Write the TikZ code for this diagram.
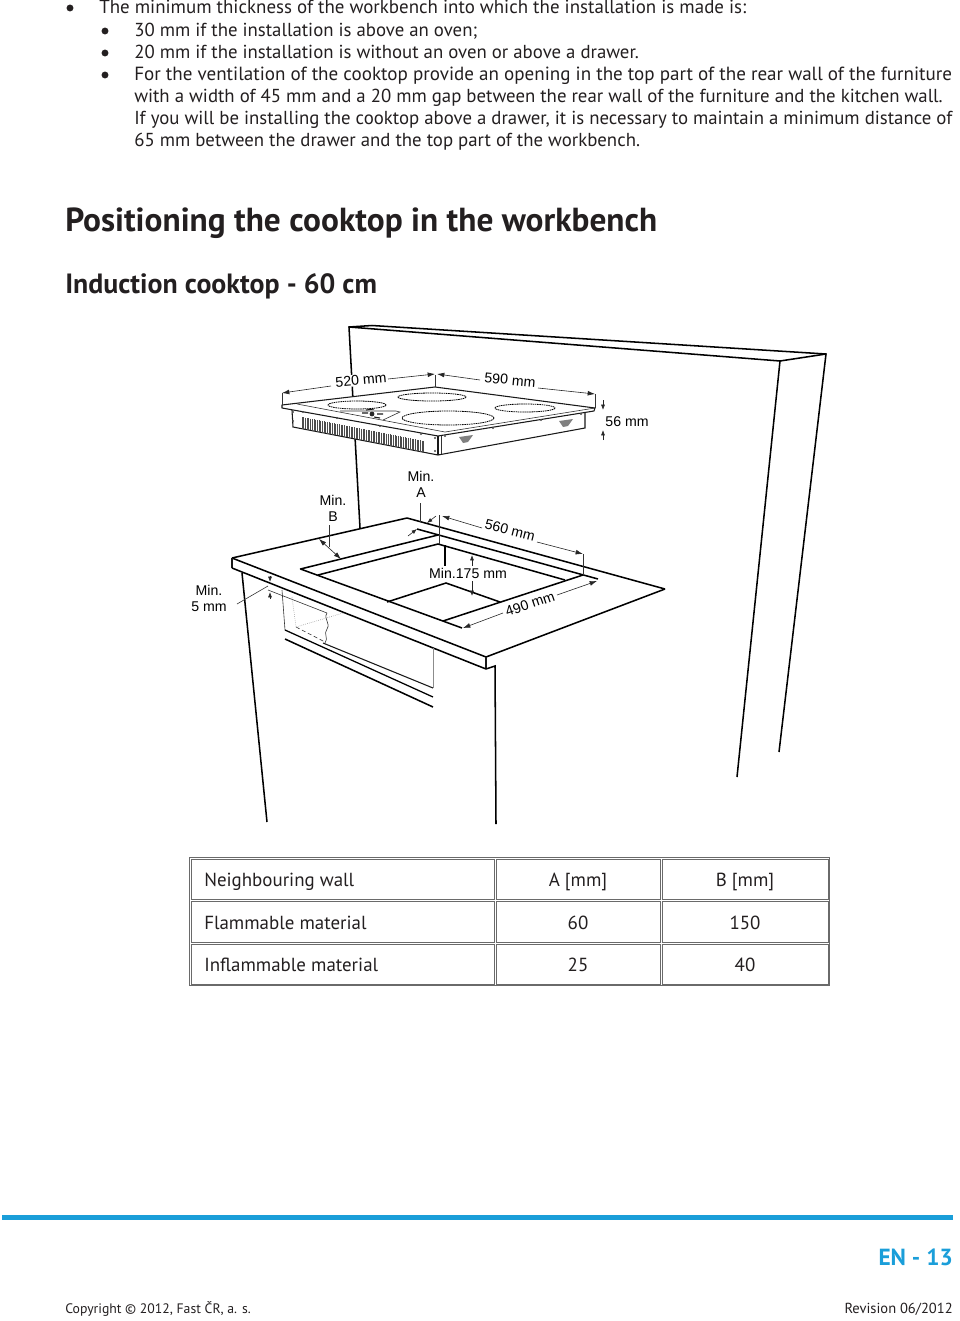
\documentclass[tikz,border=0pt]{standalone}
\usepackage{fontspec}
\usetikzlibrary{arrows.meta}
\setmainfont{PT Sans}
\newfontfamily\dimfont{Liberation Sans}
\definecolor{fastblue}{HTML}{1A9ED9}
\definecolor{textgray}{HTML}{231F20}
\definecolor{tablegray}{HTML}{6A6A6A}
\tikzset{
 body/.style={anchor=base west,inner sep=0pt,text=textgray,font=\fontsize{14.1}{16}\selectfont},
 bul/.style={circle,fill=textgray,inner sep=0pt,minimum size=5.2pt},
 heavy/.style={line width=1.15pt,black},
 mid/.style={line width=.8pt,black!90},
 thin line/.style={line width=.45pt,black!80},
 faint/.style={line width=.45pt,black!45},
 dimline/.style={line width=.45pt,black!80},
 dimarrow/.style={line width=.45pt,black!85,-{Latex[length=5.5pt,width=3.6pt]}},
 smallarrow/.style={line width=.45pt,black!85,-{Latex[length=4pt,width=3pt]}},
 dimtext/.style={inner sep=.6pt,fill=white,text=black,font=\dimfont\fontsize{10.6}{12}\selectfont,align=center},
 cell/.style={draw=tablegray,line width=.75pt},
 celltext/.style={inner sep=0pt,text=textgray,font=\fontsize{14.2}{16}\selectfont},
}
\begin{document}
\begin{tikzpicture}[x=0.75pt,y=-0.75pt]
\useasboundingbox (0,0) rectangle (960,1321);
% --- body text
\node[bul] (b1) at (70,8) {};
\node[bul] (b2) at (105,31) {};
\node[bul] (b3) at (105,53) {};
\node[bul] (b4) at (105,75) {};
\node[body,font=\fontsize{14.2}{16}\selectfont] (t1) at (99,13) {The minimum thickness of the workbench into which the installation is made is:};
\node[body] (t2) at (134,36) {30 mm if the installation is above an oven;};
\node[body] (t3) at (134,58) {20 mm if the installation is without an oven or above a drawer.};
\node[body,font=\fontsize{14.3}{16}\selectfont] (t4) at (134,80) {For the ventilation of the cooktop provide an opening in the top part of the rear wall of the furniture};
\node[body] (t5) at (134,102) {with a width of 45 mm and a 20 mm gap between the rear wall of the furniture and the kitchen wall.};
\node[body] (t6) at (134,124) {If you will be installing the cooktop above a drawer, it is necessary to maintain a minimum distance of};
\node[body] (t7) at (134,146) {65 mm between the drawer and the top part of the workbench.};
\node[anchor=base west,inner sep=0pt,text=textgray,font=\bfseries\fontsize{25}{28}\selectfont] (h1) at (65,231) {Positioning the cooktop in the workbench};
\node[anchor=base west,inner sep=0pt,text=textgray,font=\bfseries\fontsize{20.9}{24}\selectfont] (h2) at (65,293) {Induction cooktop - 60 cm};
% --- wall
\draw[heavy,line join=miter] (360,528) -- (349,327) -- (372,325.5) -- (826,354) -- (779,752);
\draw[heavy] (349,327) -- (780,361) -- (826,354);
\draw[heavy] (780,361) -- (737,777);
% --- cooktop
\fill[white] (282,405) -- (435,387) -- (595,408) -- (585,428) -- (438,455) -- (293,427) -- cycle;
\draw[mid,line join=round] (282,405) -- (435,387) -- (595,408) -- (594,411) -- (438,436) -- (282,408) -- cycle;
\draw[thin line] (297,404) -- (445,432) -- (595,408);
\draw[mid] (292,410) -- (293,427) -- (438,455) -- (585,428) -- (585,412);
\draw[mid] (438,436) -- (438,455);
\draw[thin line] (441,436) -- (441,453.5);
\foreach \cx/\cy/\rx/\ry in {357/405/29/4,432/397/34/4,525/408/30/4,448/418/46/7}
  \draw[line width=.6pt,black,dash pattern=on 1.2pt off .5pt] (\cx,\cy) ellipse[x radius=\rx,y radius=\ry];
\draw[thin line] (340,411) -- (396,411) -- (400,412) -- (383,420);
\fill[black!85] (372,414) circle[radius=2.4];
\draw[mid] (362,413) -- (368,413) (377,414) -- (383,414) (366,410) -- (374,409) (374,417) -- (380,418);
\foreach \i in {0,...,72}
  \draw[line width=.5pt,black!70] ({302+\i*1.69},{417+\i*.333}) -- ({302+\i*1.69},{428.5+\i*.333});
\foreach \sx/\sy in {303/412,337/418,380/426,421/434,445/436,493/428,541/420,581/414,293/412,293/421,435/438,435/451}
  \fill[black!70] (\sx,\sy) circle[radius=1.2];
\foreach \lx/\ly in {466/439,566/423}
  \fill[black!50] (\lx-7,\ly-2) -- (\lx+7,\ly-4) -- (\lx+2,\ly+3) -- (\lx-3,\ly+4) -- cycle;
% cooktop dimensions
\draw[dimline] (282,393) -- (282,405) (435,375) -- (435,387) (595,394) -- (595,408);
\draw[dimarrow] (331,386) -- (282,393);
\draw[dimarrow] (388,379) -- (435,374);
\draw[dimarrow] (480,380) -- (437,374);
\draw[dimarrow] (538,388) -- (595,394);
\draw[smallarrow] (603,400) -- (603,410);
\draw[smallarrow] (603,440) -- (603,430);
\node[dimtext,rotate=5] (l520) at (361,380) {520 mm};
\node[dimtext,rotate=-5] (l590) at (510,380) {590 mm};
\node[dimtext] (l56) at (627,422) {56 mm};
% --- worktop
\draw[heavy,line join=round] (232,558) -- (407,518) -- (665,589);
\draw[heavy,line join=round] (232,558) -- (486,657) -- (665,589);
\draw[mid] (232,558) -- (232,568) (486,657) -- (486,669);
\draw[heavy] (232,568) -- (486,669);
\draw[heavy] (486,669) -- (495,666) -- (496,824);
\draw[heavy] (242,573) -- (267,822);
% --- cut-out
\draw[heavy,line join=round] (438,535) -- (300.5,569) -- (462,628);
\draw[heavy] (417,529) -- (598,579);
\draw[heavy] (318,575) -- (438,544) -- (565,580);
\draw[heavy] (583,575) -- (443,621);
\draw[heavy] (387,602) -- (446,583) -- (500,602);
\draw[heavy] (445,545) -- (445,566);
% --- worktop dimensions
\draw[dimline] (420,503) -- (420,522);
\draw[dimline] (439,515) -- (439,544);
\draw[dimline] (583,554) -- (583,575);
\draw[dimline] (329,525) -- (329,547);
\draw[smallarrow] (408,536) -- (417,529);
\draw[smallarrow] (436,516) -- (427,523);
\draw[dimarrow] (482,528) -- (442,516);
\draw[dimarrow] (537,542) -- (583,554);
\draw[dimarrow] (330,549) -- (319,539);
\draw[dimarrow] (330,549) -- (341,559);
\draw[dimarrow] (503,613) -- (463,628);
\draw[dimarrow] (557,595) -- (597,581);
\draw[smallarrow] (472,566) -- (472,555);
\draw[smallarrow] (472,581) -- (472,596);
\draw[dimline] (237,604) -- (268,586);
\draw[smallarrow] (270,576) -- (270,582);
\draw[smallarrow] (270,599) -- (270,592);
\node[dimtext,rotate=-14] (l560) at (510,530) {560 mm};
\node[dimtext,rotate=19] (l490) at (530,604) {490 mm};
\node[dimtext] (l175) at (468,573) {Min.175 mm};
\node[dimtext] (lA) at (421,484) {Min.\\A};
\node[dimtext] (lB) at (333,508) {Min.\\B};
\node[dimtext] (l5) at (209,598) {Min.\\5 mm};
% --- drawer
\draw[thin line] (268,590) -- (327,613);
\draw[thin line] (282,590) -- (285,630);
\draw[heavy,line width=.95pt] (285,630) -- (433,697);
\draw[heavy] (285,639) -- (433,707);
\draw[mid] (323,643) -- (433,688);
\draw[thin line] (327,613) .. controls (323,619) and (331,623) .. (327,629) .. controls (323,634) and (329,638) .. (325,643);
\draw[faint,densely dotted] (292,597) -- (296,627);
\draw[thin line,densely dashed] (296,627) -- (325,642);
\draw[faint,densely dotted] (296,627) -- (343,613);
\draw[faint] (433,648) -- (433,688);
% --- table
\draw[cell] (189.5,857.5) rectangle (829.5,985.5);
\foreach \ya/\yb in {859.5/899,901/942,944/984}
 \foreach \xa/\xb in {191/494,496/660,662/828}
  \draw[cell] (\xa,\ya) rectangle (\xb,\yb);
\node[celltext,anchor=base west] (c11) at (204,886) {Neighbouring wall};
\node[celltext,anchor=base] (c12) at (578,886) {A [mm]};
\node[celltext,anchor=base] (c13) at (745,886) {B [mm]};
\node[celltext,anchor=base west] (c21) at (204,929) {Flammable material};
\node[celltext,anchor=base] (c22) at (578,929) {60};
\node[celltext,anchor=base] (c23) at (745,929) {150};
\node[celltext,anchor=base west] (c31) at (204,971) {Inflammable material};
\node[celltext,anchor=base] (c32) at (578,971) {25};
\node[celltext,anchor=base] (c33) at (745,971) {40};
% --- footer
\fill[fastblue] (2,1214.5) rectangle (953,1219.5);
\node[anchor=base east,inner sep=0pt,text=fastblue,font=\bfseries\fontsize{17.5}{20}\selectfont] (pg) at (953,1265) {EN - 13};
\node[anchor=base west,inner sep=0pt,text=textgray,font=\fontsize{10.3}{13}\selectfont] (cp) at (65,1313) {Copyright © 2012, Fast ČR, a. s.};
\node[anchor=base east,inner sep=0pt,text=textgray,font=\fontsize{10.9}{13}\selectfont] (rv) at (953,1313) {Revision 06/2012};
\end{tikzpicture}
\end{document}
